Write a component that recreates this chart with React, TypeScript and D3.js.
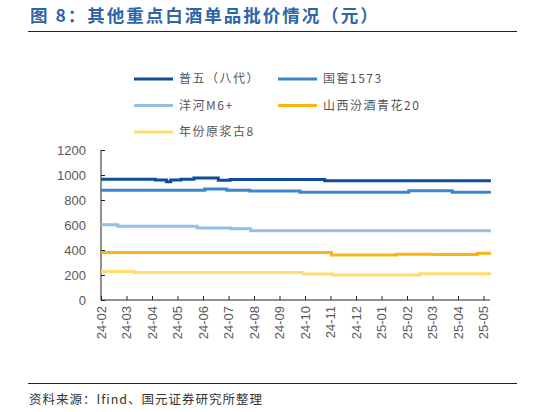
import React, { useEffect, useRef } from 'react';
import * as d3 from 'd3';

// month tick labels (category axis, evenly spaced)
const months = [
  '24-02', '24-03', '24-04', '24-05', '24-06', '24-07', '24-08', '24-09',
  '24-10', '24-11', '24-12', '25-01', '25-02', '25-03', '25-04', '25-05',
];

const yTicks = [0, 200, 400, 600, 800, 1000, 1200];

const lastDate = '2025-05-10';

// wholesale prices, [change date, price] (step series)
const puwu: [string, number][] = [
  ['2024-02-01', 966], ['2024-04-05', 960], ['2024-04-18', 946], ['2024-04-23', 960],
  ['2024-05-05', 966], ['2024-05-21', 977], ['2024-06-19', 958], ['2024-07-03', 965],
  ['2024-10-25', 955],
];
const guojiao: [string, number][] = [
  ['2024-02-01', 878], ['2024-06-03', 888], ['2024-06-29', 878], ['2024-07-27', 873],
  ['2024-09-25', 862], ['2025-02-03', 874], ['2025-03-25', 862],
];
const yanghe: [string, number][] = [
  ['2024-02-01', 602], ['2024-02-20', 590], ['2024-05-25', 577], ['2024-07-04', 571],
  ['2024-07-28', 555],
];
const qinghua: [string, number][] = [
  ['2024-02-01', 380], ['2024-11-02', 360], ['2025-01-19', 367], ['2025-03-01', 364],
  ['2025-04-24', 375],
];
const gu8: [string, number][] = [
  ['2024-02-01', 229], ['2024-03-10', 220], ['2024-09-29', 208], ['2024-11-04', 200],
  ['2025-02-15', 211],
];

const series = [
  { name: '普五（八代）', color: '#0f4c9e', data: puwu },
  { name: '国窖1573', color: '#3b86cf', data: guojiao },
  { name: '洋河M6+', color: '#93bfe5', data: yanghe },
  { name: '山西汾酒青花20', color: '#f8b514', data: qinghua },
  { name: '年份原浆古8', color: '#fedc6e', data: gu8 },
];

// date -> fractional month index from 24-02
const monthPos = (s: string) => {
  const [y, m, d] = s.split('-').map(Number);
  const days = new Date(y, m, 0).getDate();
  return (y - 2024) * 12 + (m - 2) + (d - 1) / days;
};

const cjk = '"Noto Sans CJK SC", "Noto Sans", sans-serif';
const latin = '"Liberation Sans", Arial, sans-serif';

const App: React.FC = () => {
  const svgRef = useRef<SVGSVGElement>(null);

  useEffect(() => {
    if (!svgRef.current) return;
    const svg = d3.select(svgRef.current);
    svg.selectAll('*').remove();

    const x = d3.scaleLinear().domain([0, months.length - 1]).range([101, 483.5]);
    const y = d3.scaleLinear().domain([0, 1200]).range([300, 150]);

    // title
    svg.append('text')
      .attr('x', 30).attr('y', 22)
      .style('font-family', cjk).style('font-size', '17.5px').style('font-weight', 'bold')
      .style('letter-spacing', '2px')
      .attr('fill', '#2e64a8')
      .text('图 8：其他重点白酒单品批价情况（元）');
    svg.append('line')
      .attr('x1', 28).attr('x2', 517).attr('y1', 31.5).attr('y2', 31.5)
      .attr('stroke', '#222').attr('stroke-width', 1);

    // legend
    const legendPos = [[134, 79], [278, 79], [134, 105.5], [278, 105.5], [134, 132]];
    series.forEach((s, i) => {
      const [lx, ly] = legendPos[i];
      svg.append('line')
        .attr('x1', lx).attr('x2', lx + 39).attr('y1', ly).attr('y2', ly)
        .attr('stroke', s.color).attr('stroke-width', 3);
      svg.append('text')
        .attr('x', lx + 45).attr('y', ly).attr('dy', '0.36em')
        .style('font-family', cjk).style('font-size', '12px')
        .style('letter-spacing', '1.5px')
        .attr('fill', '#555')
        .text(s.name);
    });

    // y axis
    svg.append('g')
      .attr('transform', 'translate(101,0)')
      .call(d3.axisRight(y).tickValues(yTicks).tickSize(4).tickFormat(() => ''))
      .call(g => g.select('.domain').attr('stroke', '#222').attr('d', 'M0,150V300'))
      .call(g => g.selectAll('.tick line').attr('stroke', '#222'));
    svg.selectAll('.ylab')
      .data(yTicks)
      .enter()
      .append('text')
      .attr('class', 'ylab')
      .attr('x', 86).attr('y', d => y(d)).attr('dy', '0.36em')
      .attr('text-anchor', 'end')
      .style('font-family', latin).style('font-size', '13px')
      .attr('fill', '#595959')
      .text(d => d);

    // x axis
    svg.append('g')
      .attr('transform', 'translate(0,300)')
      .call(d3.axisTop(x).tickValues(d3.range(months.length)).tickSize(4).tickFormat(() => ''))
      .call(g => g.select('.domain').attr('stroke', '#222').attr('d', 'M101,0H490'))
      .call(g => g.selectAll('.tick line').attr('stroke', '#222'));
    svg.selectAll('.xlab')
      .data(months)
      .enter()
      .append('text')
      .attr('class', 'xlab')
      .attr('transform', (_, i) => `translate(${x(i)},306) rotate(-90)`)
      .attr('dy', '0.36em')
      .attr('text-anchor', 'end')
      .style('font-family', latin).style('font-size', '13px')
      .attr('fill', '#595959')
      .text(d => d);

    // lines
    const line = d3.line<[number, number]>()
      .x(d => x(d[0]))
      .y(d => y(d[1]))
      .curve(d3.curveStepAfter);
    series.forEach(s => {
      const pts: [number, number][] = s.data.map(([dt, v]) => [monthPos(dt), v]);
      pts.push([monthPos(lastDate), s.data[s.data.length - 1][1]]);
      svg.append('path')
        .datum(pts)
        .attr('d', line)
        .attr('fill', 'none')
        .attr('stroke', s.color)
        .attr('stroke-width', 3);
    });

    // footer
    svg.append('line')
      .attr('x1', 28).attr('x2', 517).attr('y1', 383.5).attr('y2', 383.5)
      .attr('stroke', '#222').attr('stroke-width', 1);
    svg.append('text')
      .attr('x', 29).attr('y', 399).attr('dy', '0.36em')
      .style('font-family', cjk).style('font-size', '12.5px')
      .style('letter-spacing', '1px')
      .attr('fill', '#333')
      .text('资料来源：Ifind、国元证券研究所整理');
  }, []);

  return (
    <svg
      ref={svgRef}
      width={536}
      height={412}
      style={{ position: 'absolute', left: 0, top: 0, background: '#fff' }}
    />
  );
};

export default App;
